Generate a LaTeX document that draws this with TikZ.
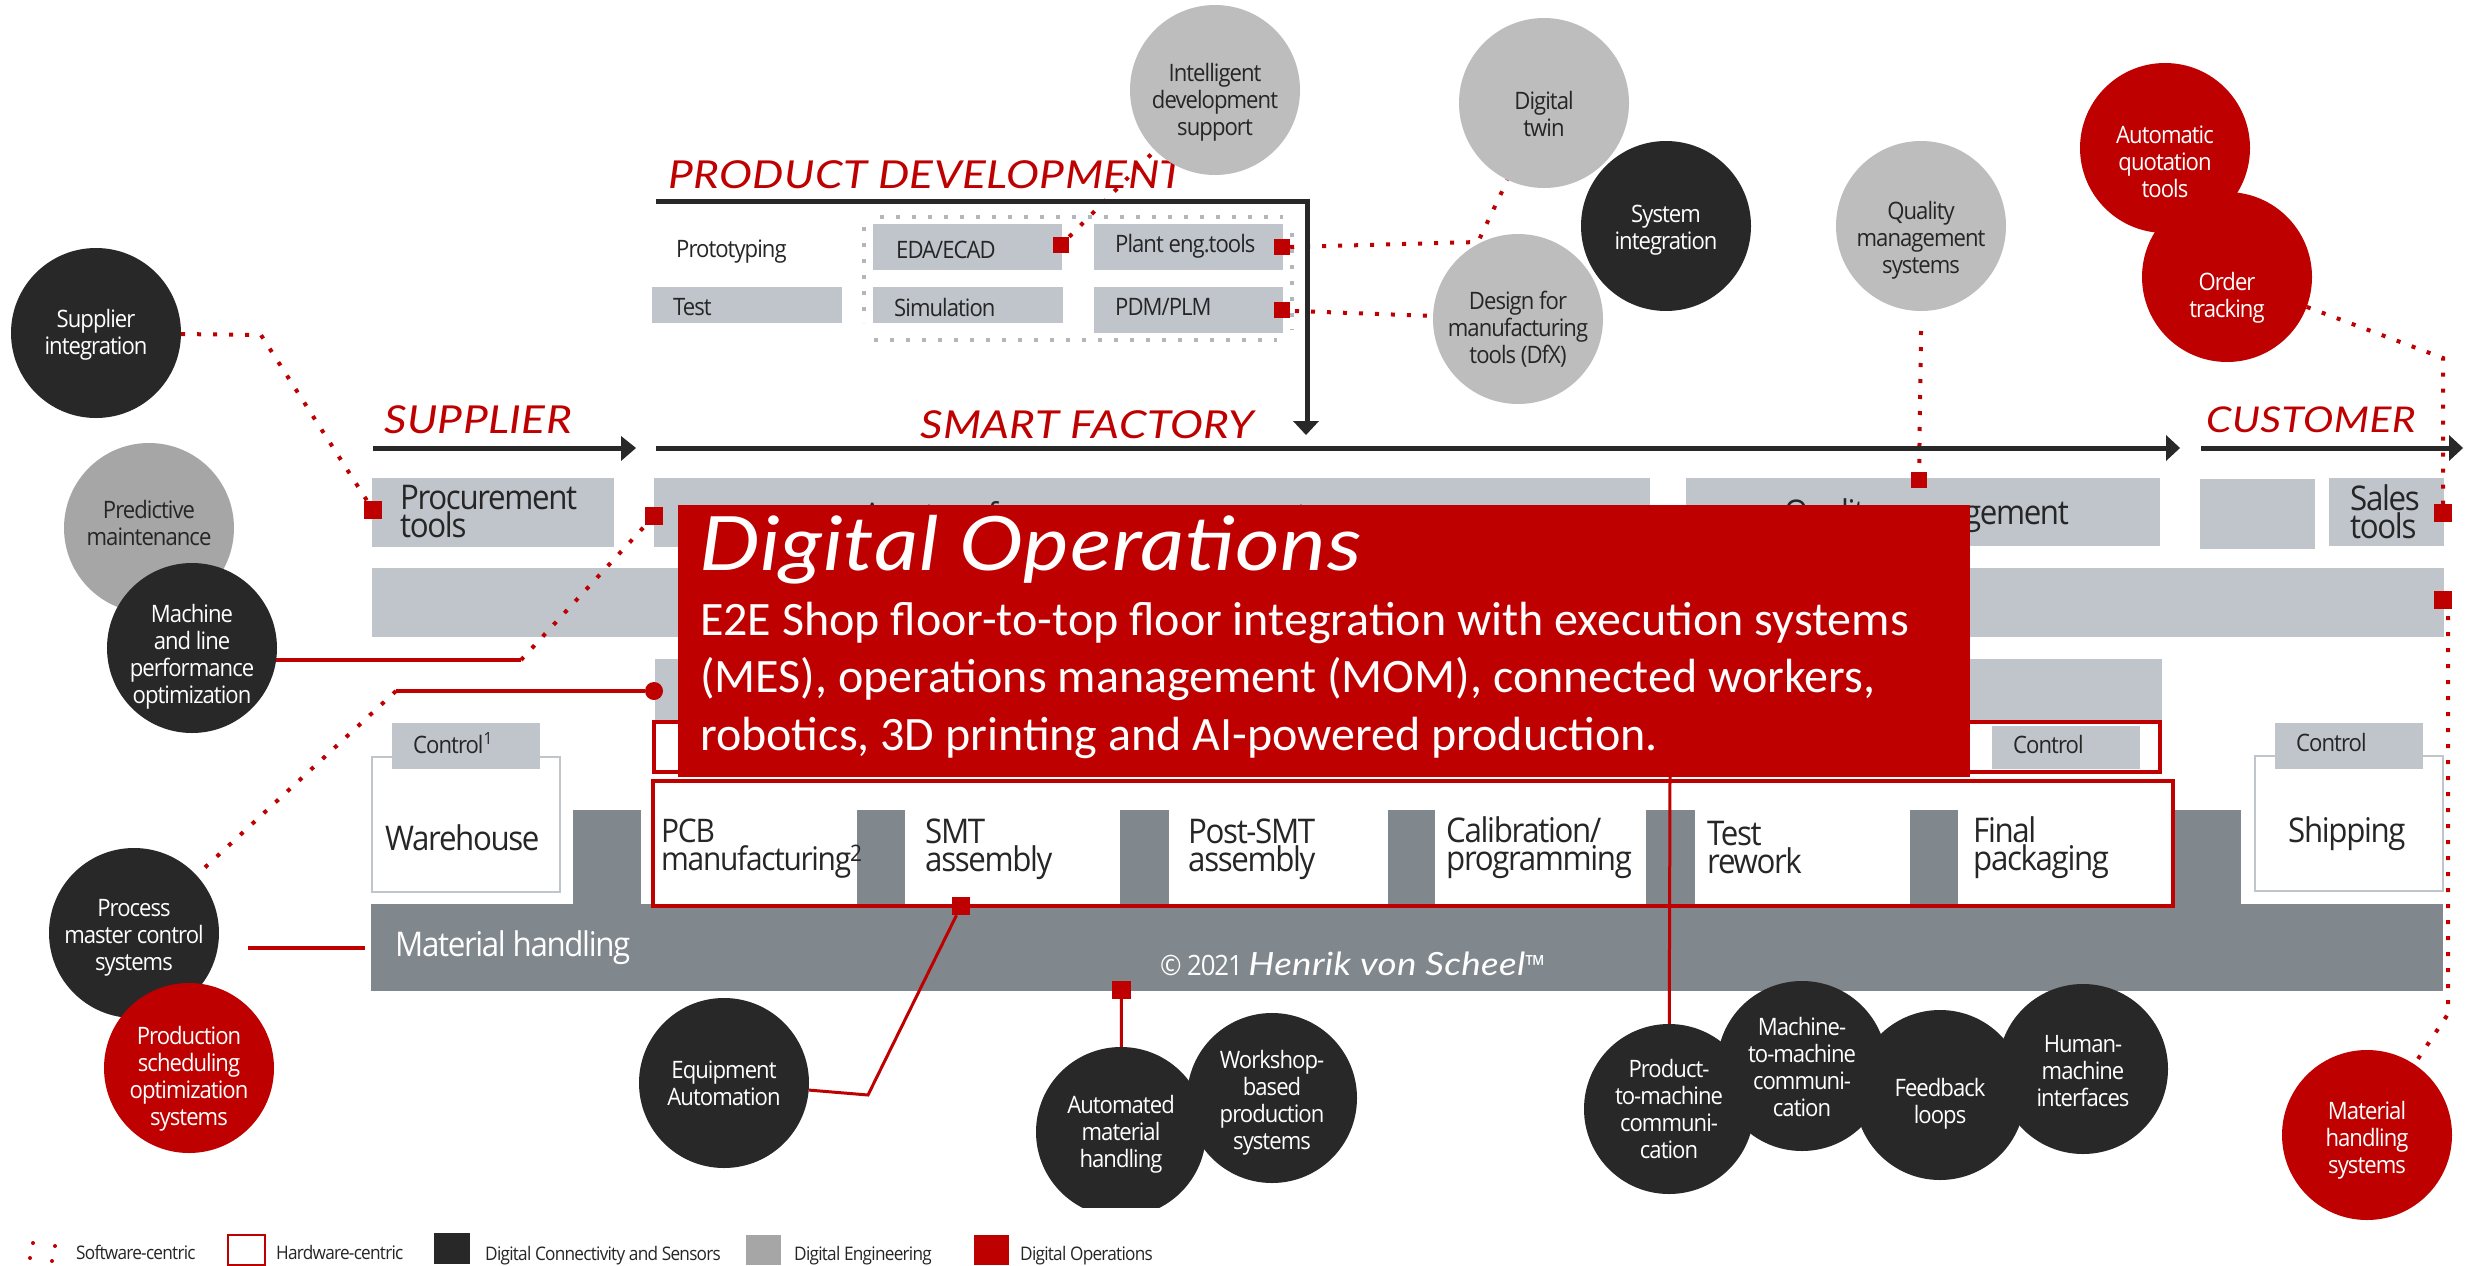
\documentclass[tikz,border=0pt]{standalone}
\usepackage{fontspec}
\usetikzlibrary{calc}
\setmainfont{Open Sans}
\newfontfamily\tah[FakeStretch=0.92,LetterSpace=-4]{Open Sans}
\newfontfamily\calb{Carlito}
\newfontfamily\hwfont[FakeStretch=1.15,LetterSpace=1]{Lato}
\definecolor{rd}{HTML}{BE0000}
\definecolor{dk}{HTML}{282828}
\definecolor{lg}{HTML}{BDBDBD}
\definecolor{mg}{HTML}{A6A6A6}
\definecolor{bxc}{HTML}{C0C5CC}
\definecolor{bd}{HTML}{80878D}
\definecolor{tx}{HTML}{262626}
\pgfdeclarelayer{boxes}\pgfdeclarelayer{conn}\pgfdeclarelayer{top}
\pgfsetlayers{boxes,conn,main,top}
\tikzset{
  x=1pt,y=-1pt,
  bub/.style={circle,inner sep=0pt,minimum size=170pt,fill=#1},
  bubtxt/.style={font=\tah\fontsize{24}{27}\selectfont,align=center,inner sep=0pt},
  labs/.style={font=\tah\fontsize{24}{27}\selectfont,text=tx,anchor=west,inner sep=0pt,align=left},
  labl/.style={font=\tah\fontsize{34}{28}\selectfont,text=tx,anchor=west,inner sep=0pt,align=left},
  legt/.style={font=\tah\fontsize{18.7}{22}\selectfont,text=tx,anchor=west,inner sep=0pt},
  head/.style={font=\hwfont\itshape\fontsize{38.5}{40}\selectfont,text=rd,inner sep=0pt,anchor=west},
  dots/.style={draw=rd,line width=4pt,dash pattern=on 4pt off 12pt},
  gdots/.style={draw=bxc!80!gray,line width=4pt,dash pattern=on 4pt off 12pt},
  solidred/.style={draw=rd,line width=4pt},
  flow/.style={draw=dk,line width=5pt},
  outl/.style={draw=rd,line width=4pt},
  plainbox/.style={draw=bxc,line width=2pt,fill=white},
  ahead/.style={fill=dk,draw=none},
}
% name x1 y1 x2 y2 style
\newcommand\bxx[6]{\node[inner sep=0pt,minimum width={#4-#2},minimum height={#5-#3},#6] (#1) at ({(#2+#4)/2},{(#3+#5)/2}) {};}
% name cx cy fill textcolor dy text
\newcommand\bbl[7]{\node[bub=#4,label={[bubtxt,text=#5,yshift={-1pt*(#6)}]center:{#7}}] (#1) at (#2,#3) {};}
\begin{document}
\begin{tikzpicture}
\useasboundingbox (0,0) rectangle (2474,1266);

\begin{pgfonlayer}{boxes}
\fill[white] (0,0) rectangle (2474,1266);
% warehouse and shipping
\bxx{wh}{372}{757}{560}{892}{plainbox}
\bxx{ship}{2255}{756}{2443}{891}{plainbox}
% pillars and band
\bxx{pa}{573}{810}{641}{905}{fill=bd}
\bxx{pb}{857}{810}{905}{905}{fill=bd}
\bxx{pc}{1120}{810}{1169}{905}{fill=bd}
\bxx{pd}{1388}{810}{1435}{905}{fill=bd}
\bxx{pe}{1646}{810}{1695}{905}{fill=bd}
\bxx{pf}{1910}{810}{1958}{905}{fill=bd}
\bxx{pg}{2174}{810}{2241}{905}{fill=bd}
\bxx{band}{371}{904}{2443}{991}{fill=bd}
% grey boxes
\bxx{proc}{372}{478}{614}{547}{fill=bxc}
\bxx{asset}{654}{478}{1650}{547}{fill=bxc}
\bxx{qual}{1686}{478}{2160}{546}{fill=bxc}
\bxx{cust}{2200}{479}{2315}{549}{fill=bxc}
\bxx{sales}{2329}{478}{2444}{546}{fill=bxc}
\bxx{midband}{372}{568}{2444}{637}{fill=bxc}
\bxx{lowband}{655}{659}{2162}{723}{fill=bxc}
\bxx{ctlA}{392}{723}{540}{769}{fill=bxc}
\bxx{ctlB}{1992}{726}{2140}{769}{fill=bxc}
\bxx{ctlC}{2275}{723}{2423}{769}{fill=bxc}
\bxx{eda}{873}{224}{1062}{270}{fill=bxc}
\bxx{plant}{1094}{224}{1283}{270}{fill=bxc}
\bxx{testb}{652}{287}{842}{323}{fill=bxc}
\bxx{sim}{873}{287}{1063}{323}{fill=bxc}
\bxx{pdm}{1094}{287}{1283}{333}{fill=bxc}
% dotted engineering frame
\draw[gdots] (880,217) -- (1283,217);
\draw[gdots] (864,227) -- (864,323);
\draw[gdots] (874,340) -- (1277,340);
\draw[gdots] (1292,233) -- (1292,330);
% hardware outlines
\bxx{hwA}{654}{722}{2160}{772}{outl}
\bxx{hwB}{653}{781}{2173}{906}{outl}
\end{pgfonlayer}

% labels on boxes
\node[labs] (tProto) at (676,252) {Prototyping};
\node[labs] (tEda) at (896,250) {EDA/ECAD};
\node[labs] (tPlant) at (1115,246) {Plant eng.tools};
\node[labs] (tTest) at (673,307) {Test};
\node[labs] (tSim) at (894,307) {Simulation};
\node[labs] (tPdm) at (1115,307) {PDM/PLM};
\node[labl] (tProc) at (400,512) {Procurement\\tools};
\node[labl,anchor=center] (tAsset) at (1085,519) {Asset performance management};
\node[labl,anchor=east] (tQual) at (2069,516) {Quality management};
\node[labl] (tSales) at (2350,512) {Sales\\tools};
\node[labs] (tCa) at (413,743) {Control\textsuperscript{1}};
\node[labs] (tCb) at (2013,744) {Control};
\node[labs] (tCc) at (2296,742) {Control};
\node[labl] (tWh) at (385,838) {Warehouse};
\node[labl] (tShip) at (2288,834) {Shipping};
\node[labl,font=\tah\fontsize{32.5}{28}\selectfont] (tPcb) at (661,849) {PCB\\manufacturing\textsuperscript{\hspace{-1pt}2}};
\node[labl] (tSmt) at (925,849) {SMT\\assembly};
\node[labl] (tPost) at (1188,849) {Post-SMT\\assembly};
\node[labl] (tCal) at (1446,848) {Calibration/\\programming};
\node[labl] (tRew) at (1707,848) {Test\\rework};
\node[labl] (tFin) at (1973,848) {Final\\packaging};
\node[labl,text=white] (tMat) at (395,948) {Material handling};
\node[labs,text=white,font=\tah\fontsize{28}{30}\selectfont] (tCopy) at (1160,964) {© 2021 {\hwfont\itshape\fontsize{32}{30}\selectfont Henrik von Scheel}™};

% headings
\node[head] (hPd) at (668,175) {PRODUCT DEVELOPMENT};
\node[head] (hSf) at (920,425) {SMART FACTORY};
\node[head] (hSu) at (384,420) {SUPPLIER};
\node[head,font=\hwfont\itshape\fontsize{35.5}{40}\selectfont] (hCu) at (2206,420) {CUSTOMER};

% bubbles
\bbl{supp}{96}{333}{dk}{white}{2}{Supplier\\integration}
\bbl{pred}{149}{528}{mg}{tx}{-5}{Predictive\\maintenance}
\bbl{mach}{192}{648}{dk}{white}{9}{Machine\\and line\\performance\\optimization}
\bbl{pms}{134}{933}{dk}{white}{5}{Process\\master control\\systems}
\bbl{psch}{189}{1068}{rd}{white}{11}{Production\\scheduling\\optimization\\systems}
\bbl{intel}{1215}{90}{lg}{tx}{12}{Intelligent\\development\\support}
\bbl{twin}{1544}{103}{lg}{tx}{11}{Digital\\twin}
\bbl{sys}{1666}{226}{dk}{white}{4}{System\\integration}
\bbl{dfm}{1518}{319}{lg}{tx}{10}{Design for\\manufacturing\\tools (DfX)}
\bbl{qms}{1921}{226}{lg}{tx}{14}{Quality\\management\\systems}
\bbl{auto}{2165}{148}{rd}{white}{14}{Automatic\\quotation\\tools}
\bbl{order}{2227}{277}{rd}{white}{21}{Order\\tracking}
\bbl{equip}{724}{1083}{dk}{white}{0}{Equipment\\Automation}
\bbl{amh}{1121}{1132}{dk}{white}{2}{Automated\\material\\handling}
\bxx{cut}{1030}{1208}{1186}{1225}{fill=white}
\bbl{work}{1272}{1098}{dk}{white}{5}{Workshop-\\based\\production\\systems}
\bbl{feed}{1940}{1095}{dk}{white}{9}{Feedback\\loops}
\bbl{m2m}{1802}{1066}{dk}{white}{1}{Machine-\\to-machine\\communi-\\cation}
\bbl{hmi}{2083}{1069}{dk}{white}{2}{Human-\\machine\\interfaces}
\bbl{p2m}{1669}{1109}{dk}{white}{0}{Product-\\to-machine\\communi-\\cation}
\bbl{mhs}{2367}{1135}{rd}{white}{5}{Material\\handling\\systems}

% red markers
\bxx{sEda}{1053}{237}{1069}{253}{fill=rd}
\bxx{sPlant}{1274}{239}{1290}{255}{fill=rd}
\bxx{sPdm}{1274}{302}{1290}{318}{fill=rd}
\bxx{sProc}{364}{501}{382}{519}{fill=rd}
\bxx{sAsset}{645}{507}{663}{525}{fill=rd}
\bxx{sQual}{1911}{472}{1927}{488}{fill=rd}
\bxx{sSales}{2434}{504}{2452}{522}{fill=rd}
\bxx{sBand}{2434}{591}{2452}{609}{fill=rd}
\bxx{sSmt}{952}{897}{970}{915}{fill=rd}
\bxx{sAmh}{1112}{981}{1131}{999}{fill=rd}
\node[fill=rd,circle,inner sep=0pt,minimum size=18pt] (dLow) at (654,691) {};

% connectors
\coordinate (c1) at (261,335);
\coordinate (c2) at (521,660);
\coordinate (c3) at (396,691);
\coordinate (c4) at (2443,358);
\coordinate (c5) at (2448,1014);
\coordinate (c6) at (868,1095);
\coordinate (c7) at (1478,242);
\coordinate (c8) at (1670,777);
\coordinate (c9) at (1295,311);
\coordinate (c10) at (1921,331);
\coordinate (c11) at (248,948);
\coordinate (c12) at (365,948);
\begin{pgfonlayer}{conn}
\draw[dots] (sEda.north east) -- (intel);
\draw[dots] (sPlant.east) -- (c7) -- (twin);
\draw[dots] (c9) -- (dfm);
\draw[dots] (supp) -- (c1) -- (sProc);
\draw[solidred] (c2 -| mach) -- (c2);
\draw[dots] (c2) -- (sAsset);
\draw[solidred] (c3) -- (dLow);
\draw[dots] (c3) -- (pms);
\draw[solidred] (c11) -- (c12);
\draw[solidred,line width=3pt] (sSmt) -- (c6) -- (equip);
\draw[solidred,line width=3pt] (sAmh) -- (amh);
\draw[solidred,line width=3pt] (c8) -- (p2m);
\draw[dots] (c10) -- (sQual);
\draw[dots] (order) -- (c4) -- (sSales);
\draw[dots] (sBand.east -| c5) -- (c5) -- (mhs);
% flow arrows
\draw[flow] (656,201) -- (1307,201) coordinate (k1) -- (1307,423);
\fill[ahead] (1293,421) -- (1319,421) -- (1306,435) -- cycle;
\draw[flow] (373,448) -- (623,448);
\fill[ahead] (621,436) -- (636,448) -- (621,461) -- cycle;
\draw[flow] (656,448) -- (2168,448);
\fill[ahead] (2166,435) -- (2180,448) -- (2166,461) -- cycle;
\draw[flow] (2201,448) -- (2451,448);
\fill[ahead] (2449,435) -- (2463,448) -- (2449,461) -- cycle;
\end{pgfonlayer}

% red panel
\begin{pgfonlayer}{top}
\bxx{panel}{678}{505}{1970}{777}{fill=rd}
\node[font=\hwfont\itshape\fontsize{75}{84}\selectfont,text=white,inner sep=0pt,anchor=base west] (pT) at (699,570) {Digital Operations};
\node[font=\calb\fontsize{48}{57}\selectfont,text=white,inner sep=0pt,anchor=base west] (pA) at (700,635) {E2E Shop floor-to-top floor integration with execution systems};
\node[font=\calb\fontsize{48}{57}\selectfont,text=white,inner sep=0pt,anchor=base west] (pB) at (700,692) {(MES), operations management (MOM), connected workers,};
\node[font=\calb\fontsize{48}{57}\selectfont,text=white,inner sep=0pt,anchor=base west] (pC) at (700,750) {robotics, 3D printing and AI-powered production.};
\end{pgfonlayer}

% legend
\foreach \px/\py [count=\i] in {33/1243,55/1246,30/1258,52/1261}
  \node[fill=rd,circle,inner sep=0pt,minimum size=4pt] (ld\i) at (\px,\py) {};
\node[legt] (l1) at (76,1252) {Software-centric};
\bxx{l2b}{228}{1235}{265}{1265}{draw=rd,line width=2pt}
\node[legt] (l2) at (276,1252) {Hardware-centric};
\bxx{l3b}{434}{1233}{470}{1264}{fill=dk}
\node[legt] (l3) at (485,1256) {Digital Connectivity and Sensors};
\bxx{l4b}{746}{1235}{781}{1265}{fill=mg}
\node[legt] (l4) at (794,1256) {Digital Engineering};
\bxx{l5b}{974}{1235}{1009}{1265}{fill=rd}
\node[legt] (l5) at (1020,1256) {Digital Operations};
\end{tikzpicture}
\end{document}
